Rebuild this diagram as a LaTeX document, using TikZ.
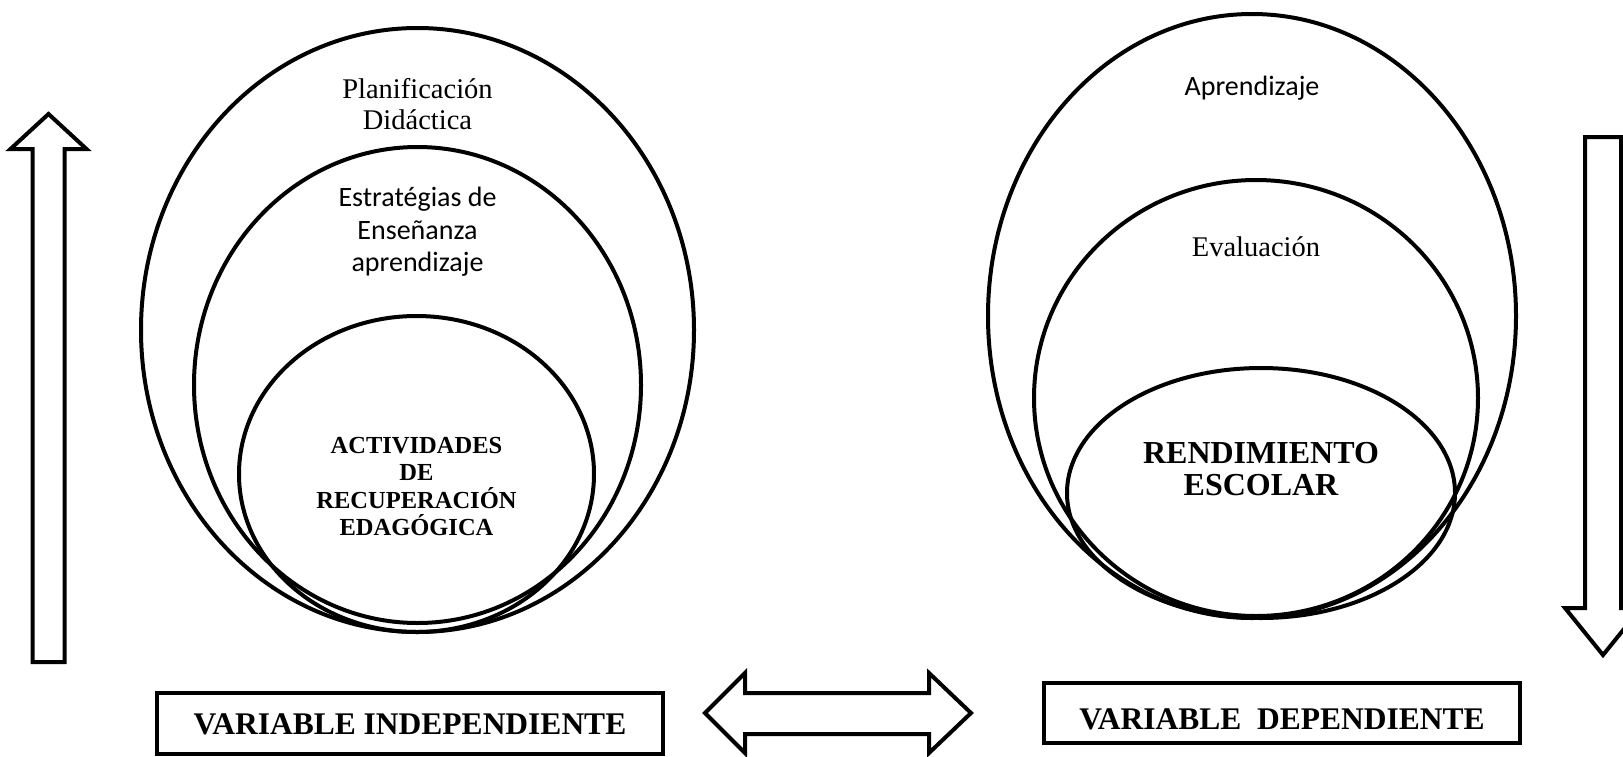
\documentclass[tikz,border=0pt]{standalone}
\usepackage{fontspec}
\setmainfont{Liberation Serif}
\newfontfamily\calibri{Carlito}
\usetikzlibrary{shapes.geometric, positioning}

\tikzset{
  ring/.style={ellipse, draw, line width=4pt, inner sep=0pt},
  serif/.style={font=\fontsize{28.5}{31}\selectfont, align=center, inner sep=0pt},
  sans/.style={font=\calibri\fontsize{28}{33}\selectfont, align=center, inner sep=0pt},
  core/.style={font=\bfseries\fontsize{24.5}{27.5}\selectfont, align=center, inner sep=0pt},
  varbox/.style={draw, line width=4pt, inner sep=0pt, anchor=base,
    font=\bfseries\fontsize{31.5}{33}\selectfont},
  blockarrow/.style={draw, line width=4pt, line join=miter},
}

\begin{document}
\begin{tikzpicture}[x=1pt, y=-1pt]
\useasboundingbox (0,0) rectangle (1623,756);

% independent variable
\node[ring, minimum width=553, minimum height=604] (planif) at (417.5,330) {};
\node[ring, minimum width=447, minimum height=476] (estrat) at (417.5,385) {};
\node[ring, minimum width=355, minimum height=316] (activ) at (416.5,474) {};

\node[serif, below=52pt of planif.north] (planiflbl) {Planificación\\Didáctica};
\node[sans, below=42pt of estrat.north, font=\calibri\fontsize{28}{32.5}\selectfont] (estratlbl) {Estratégias de\\Enseñanza\\aprendizaje};
\node[core, below=123pt of activ.north] (activlbl) {ACTIVIDADES\\DE\\RECUPERACIÓN\\EDAGÓGICA};

% dependent variable
\node[ring, minimum width=528, minimum height=604] (aprend) at (1252,316) {};
\node[ring, minimum width=444, minimum height=436] (eval) at (1256,398) {};
\node[ring, minimum width=388, minimum height=250] (rend) at (1261,493) {};

\node[sans, below=64pt of aprend.north] (aprendlbl) {Aprendizaje};
\node[serif, below=58pt of eval.north] (evallbl) {Evaluación};
\node[core, below=76pt of rend.north, font=\bfseries\fontsize{32}{32}\selectfont] (rendlbl) {RENDIMIENTO\\ESCOLAR};

% boxes
\node[varbox, minimum width=506, text height=41.5pt, text depth=19pt] (indep) at (410,734.5) {VARIABLE INDEPENDIENTE};
\node[varbox, minimum width=476, text height=46pt, text depth=14pt] (dep) at (1282,729) {VARIABLE\ \ DEPENDIENTE};

% block arrows
\draw[blockarrow] (32.5,662) -- (32.5,149) -- (10.5,149) -- (48.5,114) -- (86.5,149) -- (64.5,149) -- (64.5,662) -- cycle;
\draw[blockarrow] (1585,137) -- (1621,137) -- (1621,608) -- (1641,608) -- (1603,655) -- (1565,608) -- (1585,608) -- cycle;
\draw[blockarrow] (705,713) -- (745,673) -- (745,693) -- (929,693) -- (929,673) -- (971,713) -- (929,753) -- (929,734) -- (745,734) -- (745,753) -- cycle;
\end{tikzpicture}
\end{document}
